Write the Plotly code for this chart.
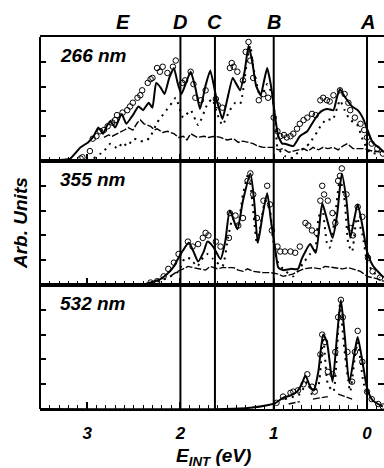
import plotly.graph_objects as go

# ---------------- data (E_INT in eV, intensity in arbitrary units 0..1) ----------------
# 266 nm panel
e266_line = [3.50, 3.26, 3.18, 3.07, 2.99, 2.93, 2.88, 2.83, 2.79, 2.75, 2.70, 2.63, 2.58, 2.51, 2.45,
             2.40, 2.34, 2.30, 2.26, 2.21, 2.17, 2.12, 2.07, 2.03, 1.99, 1.95, 1.89, 1.84, 1.79, 1.73,
             1.68, 1.61, 1.55, 1.50, 1.44, 1.40, 1.36, 1.31, 1.27, 1.23, 1.19, 1.14, 1.10, 1.07, 1.03,
             0.98, 0.95, 0.91, 0.88, 0.79, 0.72, 0.64, 0.59, 0.52, 0.47, 0.42, 0.36, 0.32, 0.29, 0.24,
             0.16, 0.10, 0.04, -0.01, -0.06, -0.14, -0.18]
i266_line = [0.00, 0.01, 0.02, 0.11, 0.15, 0.20, 0.27, 0.22, 0.28, 0.32, 0.27, 0.38, 0.30, 0.37, 0.44,
             0.41, 0.47, 0.43, 0.63, 0.59, 0.54, 0.67, 0.75, 0.63, 0.54, 0.61, 0.72, 0.59, 0.42, 0.61,
             0.73, 0.49, 0.34, 0.49, 0.67, 0.62, 0.57, 0.73, 0.93, 0.80, 0.61, 0.53, 0.66, 0.75, 0.61,
             0.33, 0.20, 0.14, 0.14, 0.12, 0.20, 0.24, 0.30, 0.38, 0.41, 0.42, 0.41, 0.52, 0.58, 0.52,
             0.44, 0.41, 0.34, 0.24, 0.15, 0.10, 0.07]
e266_exp = [3.07, 3.05, 2.97, 2.94, 2.90, 2.86, 2.82, 2.78, 2.73, 2.70, 2.68, 2.62, 2.57, 2.54, 2.51,
            2.46, 2.43, 2.41, 2.35, 2.32, 2.30, 2.25, 2.22, 2.19, 2.14, 2.08, 2.05, 1.98, 1.95, 1.89,
            1.86, 1.84, 1.78, 1.73, 1.62, 1.60, 1.55, 1.47, 1.45, 1.43, 1.39, 1.33, 1.30, 1.27, 1.25,
            1.22, 1.16, 1.11, 1.06, 1.00, 0.96, 0.93, 0.89, 0.86, 0.82, 0.79, 0.75, 0.72, 0.68, 0.64,
            0.59, 0.55, 0.50, 0.47, 0.43, 0.40, 0.36, 0.29, 0.24, 0.20, 0.18, 0.13, 0.07, 0.03, 0.00,
            -0.05, -0.11, -0.17]
i266_exp = [0.02, 0.03, 0.08, 0.18, 0.20, 0.24, 0.25, 0.28, 0.31, 0.33, 0.37, 0.39, 0.41, 0.44, 0.47,
            0.51, 0.53, 0.57, 0.63, 0.66, 0.67, 0.75, 0.72, 0.76, 0.71, 0.76, 0.81, 0.63, 0.65, 0.72,
            0.62, 0.51, 0.49, 0.57, 0.50, 0.45, 0.43, 0.75, 0.79, 0.76, 0.72, 0.65, 0.88, 0.96, 0.81,
            0.67, 0.49, 0.54, 0.51, 0.35, 0.24, 0.20, 0.21, 0.19, 0.20, 0.22, 0.26, 0.30, 0.33, 0.35,
            0.38, 0.37, 0.49, 0.51, 0.49, 0.48, 0.53, 0.57, 0.54, 0.47, 0.41, 0.35, 0.30, 0.25, 0.19,
            0.14, 0.10, 0.06]
e266_dot = [2.93, 2.82, 2.75, 2.67, 2.62, 2.57, 2.50, 2.43, 2.37, 2.32, 2.25, 2.21, 2.14, 2.09, 2.05,
            1.97, 1.89, 1.81, 1.71, 1.66, 1.60, 1.55, 1.47, 1.41, 1.36, 1.28, 1.25, 1.22, 1.14, 1.07,
            1.02, 0.98, 0.96, 0.88, 0.82, 0.72, 0.66, 0.61, 0.53, 0.50, 0.43, 0.37, 0.32, 0.29, 0.24,
            0.18, 0.11, 0.04, -0.03, -0.11]
i266_dot = [0.02, 0.08, 0.14, 0.10, 0.15, 0.12, 0.18, 0.16, 0.16, 0.20, 0.31, 0.35, 0.42, 0.47, 0.51,
            0.35, 0.41, 0.29, 0.46, 0.50, 0.37, 0.29, 0.41, 0.47, 0.46, 0.84, 0.93, 0.76, 0.51, 0.62,
            0.54, 0.31, 0.11, 0.04, 0.02, 0.08, 0.11, 0.15, 0.24, 0.28, 0.34, 0.33, 0.43, 0.49, 0.41,
            0.33, 0.30, 0.16, 0.07, 0.06]
e266_bg = [2.82, 2.77, 2.73, 2.68, 2.64, 2.60, 2.56, 2.51, 2.46, 2.43, 2.39, 2.36, 2.32, 2.28, 2.25,
           2.19, 2.14, 2.07, 2.02, 1.97, 1.93, 1.89, 1.82, 1.75, 1.70, 1.63, 1.57, 1.50, 1.43, 1.38,
           1.33, 1.27, 1.22, 1.17, 1.11, 1.01, 0.95, 0.90, 0.84, 0.79, 0.73, 0.68, 0.63, 0.58, 0.52,
           0.47, 0.42, 0.36, 0.31, 0.26, 0.21, 0.15, 0.10, 0.04, -0.06, -0.17]
i266_bg = [0.19, 0.21, 0.20, 0.22, 0.23, 0.25, 0.27, 0.25, 0.31, 0.33, 0.30, 0.29, 0.28, 0.25, 0.26,
           0.23, 0.24, 0.22, 0.19, 0.20, 0.17, 0.22, 0.19, 0.20, 0.19, 0.20, 0.19, 0.17, 0.18, 0.15,
           0.16, 0.15, 0.14, 0.12, 0.11, 0.11, 0.09, 0.10, 0.07, 0.08, 0.09, 0.10, 0.08, 0.11, 0.09,
           0.11, 0.10, 0.11, 0.09, 0.12, 0.14, 0.10, 0.10, 0.10, 0.08, 0.07]

# 355 nm panel
e355_line = [3.50, 2.43, 2.32, 2.21, 2.14, 2.07, 2.02, 1.98, 1.91, 1.86, 1.81, 1.75, 1.71, 1.65, 1.57,
             1.52, 1.47, 1.39, 1.33, 1.25, 1.21, 1.17, 1.12, 1.07, 1.03, 0.98, 0.95, 0.90, 0.82, 0.74,
             0.70, 0.66, 0.61, 0.55, 0.48, 0.44, 0.37, 0.32, 0.27, 0.22, 0.18, 0.14, 0.10, 0.05, 0.00,
             -0.06, -0.14, -0.18]
i355_line = [0.00, 0.00, 0.02, 0.05, 0.09, 0.15, 0.22, 0.27, 0.34, 0.27, 0.19, 0.27, 0.35, 0.31, 0.21,
             0.35, 0.60, 0.45, 0.68, 0.90, 0.68, 0.34, 0.56, 0.74, 0.52, 0.27, 0.14, 0.12, 0.13, 0.13,
             0.21, 0.27, 0.33, 0.26, 0.66, 0.56, 0.38, 0.57, 0.90, 0.68, 0.38, 0.52, 0.65, 0.48, 0.27,
             0.16, 0.09, 0.06]
e355_exp = [2.32, 2.25, 2.18, 2.13, 2.07, 2.02, 1.92, 1.87, 1.81, 1.76, 1.73, 1.70, 1.62, 1.57, 1.48,
            1.47, 1.41, 1.38, 1.33, 1.28, 1.25, 1.22, 1.18, 1.11, 1.07, 1.04, 1.02, 0.96, 0.93, 0.88,
            0.82, 0.77, 0.72, 0.66, 0.63, 0.59, 0.54, 0.50, 0.48, 0.46, 0.42, 0.37, 0.34, 0.31, 0.29,
            0.27, 0.22, 0.18, 0.15, 0.10, 0.05, -0.01, -0.06, -0.14]
i355_exp = [0.02, 0.03, 0.07, 0.13, 0.18, 0.25, 0.35, 0.31, 0.33, 0.38, 0.42, 0.40, 0.35, 0.31, 0.38,
            0.58, 0.56, 0.48, 0.54, 0.84, 0.90, 0.73, 0.54, 0.68, 0.80, 0.65, 0.44, 0.31, 0.27, 0.27,
            0.27, 0.26, 0.31, 0.50, 0.48, 0.44, 0.42, 0.68, 0.80, 0.73, 0.68, 0.58, 0.50, 0.84, 0.88,
            0.94, 0.73, 0.46, 0.40, 0.63, 0.55, 0.22, 0.11, 0.06]
e355_dot = [2.32, 2.16, 2.02, 1.95, 1.89, 1.82, 1.75, 1.71, 1.65, 1.55, 1.49, 1.44, 1.39, 1.33, 1.27,
            1.20, 1.18, 1.09, 1.04, 1.01, 0.96, 0.90, 0.79, 0.68, 0.61, 0.56, 0.52, 0.48, 0.43, 0.40,
            0.34, 0.29, 0.24, 0.20, 0.16, 0.11, 0.05, 0.00, -0.06, -0.14]
i355_dot = [0.01, 0.05, 0.11, 0.22, 0.21, 0.15, 0.23, 0.25, 0.21, 0.15, 0.38, 0.54, 0.46, 0.73, 0.90,
            0.45, 0.33, 0.68, 0.60, 0.38, 0.19, 0.13, 0.07, 0.18, 0.25, 0.27, 0.54, 0.62, 0.34, 0.30,
            0.57, 0.86, 0.68, 0.33, 0.27, 0.54, 0.41, 0.19, 0.11, 0.06]
e355_bg = [2.11, 2.03, 1.97, 1.92, 1.86, 1.79, 1.73, 1.68, 1.60, 1.55, 1.50, 1.43, 1.38, 1.33, 1.28,
           1.22, 1.11, 1.04, 0.96, 0.90, 0.84, 0.79, 0.74, 0.68, 0.58, 0.50, 0.45, 0.36, 0.31, 0.26,
           0.20, 0.15, 0.07, 0.00, -0.11, -0.18]
i355_bg = [0.07, 0.11, 0.13, 0.15, 0.14, 0.13, 0.12, 0.15, 0.13, 0.14, 0.14, 0.14, 0.12, 0.11, 0.13,
           0.11, 0.10, 0.10, 0.09, 0.07, 0.08, 0.09, 0.11, 0.13, 0.14, 0.13, 0.15, 0.14, 0.13, 0.13,
           0.14, 0.13, 0.11, 0.07, 0.05, 0.03]

# 532 nm panel
e532_line = [3.50, 1.52, 1.25, 1.07, 0.98, 0.90, 0.82, 0.75, 0.70, 0.66, 0.61, 0.57, 0.52, 0.47, 0.43,
             0.37, 0.32, 0.28, 0.24, 0.19, 0.13, 0.10, 0.04, 0.00, -0.06, -0.17]
i532_line = [0.00, 0.00, 0.01, 0.03, 0.05, 0.09, 0.11, 0.14, 0.20, 0.27, 0.18, 0.15, 0.31, 0.60, 0.54,
             0.22, 0.60, 0.88, 0.60, 0.21, 0.47, 0.58, 0.34, 0.17, 0.07, 0.02]
e532_exp = [0.97, 0.90, 0.82, 0.79, 0.74, 0.68, 0.64, 0.59, 0.56, 0.50, 0.48, 0.45, 0.42, 0.37, 0.34,
            0.31, 0.28, 0.26, 0.21, 0.16, 0.13, 0.10, 0.05, 0.00, -0.05, -0.12, -0.17]
i532_exp = [0.05, 0.10, 0.13, 0.14, 0.15, 0.20, 0.28, 0.18, 0.14, 0.44, 0.60, 0.54, 0.30, 0.28, 0.46,
            0.74, 0.88, 0.74, 0.46, 0.22, 0.46, 0.63, 0.38, 0.14, 0.08, 0.04, 0.02]
e532_dot = [0.88, 0.72, 0.64, 0.59, 0.52, 0.47, 0.42, 0.36, 0.29, 0.24, 0.18, 0.13, 0.10, 0.04, -0.01]
i532_dot = [0.08, 0.12, 0.22, 0.12, 0.19, 0.58, 0.20, 0.14, 0.84, 0.46, 0.14, 0.42, 0.54, 0.22, 0.10]
e532_bg = [0.84, 0.72, None, 0.58, 0.42, None, 0.31, 0.16]
i532_bg = [0.04, 0.06, None, 0.08, 0.10, None, 0.12, 0.08]

wavelengths = ["266 nm", "355 nm", "532 nm"]
marker_labels = ["E", "D", "C", "B", "A"]
marker_energies = [2.62, 2.0, 1.63, 1.0, 0.0]
line_energies = [2.0, 1.63, 1.0, 0.0]
x_ticks = [0, 1, 2, 3]

panels = [
    (e266_exp, i266_exp, e266_line, i266_line, e266_dot, i266_dot, e266_bg, i266_bg),
    (e355_exp, i355_exp, e355_line, i355_line, e355_dot, i355_dot, e355_bg, i355_bg),
    (e532_exp, i532_exp, e532_line, i532_line, e532_dot, i532_dot, e532_bg, i532_bg),
]

# ---------------- figure ----------------
W, H = 384, 468
ML, MR, MT, MB = 40, 0, 37, 59
PH = H - MT - MB
FONT = "Liberation Sans"

fig = go.Figure()
for k, (ex, iy, lx, ly, dx, dy, bx, by) in enumerate(panels):
    xa = "x" if k == 0 else f"x{k+1}"
    ya = "y" if k == 0 else f"y{k+1}"
    fig.add_trace(go.Scatter(x=dx, y=dy, mode="lines", xaxis=xa, yaxis=ya,
                             line=dict(color="black", width=2, dash="2px,5px",
                                       shape="spline", smoothing=0.5),
                             hoverinfo="skip"))
    fig.add_trace(go.Scatter(x=bx, y=by, mode="lines", xaxis=xa, yaxis=ya,
                             line=dict(color="black", width=1.4, dash="7px,2px"),
                             connectgaps=False, hoverinfo="skip"))
    fig.add_trace(go.Scatter(x=lx, y=ly, mode="lines", xaxis=xa, yaxis=ya,
                             line=dict(color="black", width=2, shape="spline",
                                       smoothing=0.45 if k == 0 else 0.6)))
    fig.add_trace(go.Scatter(x=ex, y=iy, mode="markers", xaxis=xa, yaxis=ya,
                             marker=dict(symbol="circle-open", size=5.5, color="black",
                                         line=dict(width=1, color="black"))))

xr = [3.505, -0.182]
tickfont = dict(family=FONT, size=17, color="black", weight="bold", style="italic")
layout = dict(
    width=W, height=H, margin=dict(l=ML, r=MR, t=MT, b=MB),
    paper_bgcolor="white", plot_bgcolor="white", showlegend=False,
)
for k in range(3):
    sfx = "" if k == 0 else str(k + 1)
    top = 1 - k / 3
    bot = 1 - (k + 1) / 3
    layout["xaxis" + sfx] = dict(
        range=xr, domain=[0, 1], anchor="y" + sfx,
        showline=True, linecolor="black", linewidth=2, mirror=True,
        ticks="inside", tickmode="array", tickvals=x_ticks, ticklen=7, tickwidth=1.5,
        tickcolor="black",
        minor=dict(dtick=0.1, tick0=0, ticks="inside", ticklen=4, tickwidth=1.2,
                   tickcolor="black"),
        showgrid=False, zeroline=False,
        showticklabels=(k == 2), tickfont=tickfont, ticklabelstandoff=8,
    )
    layout["yaxis" + sfx] = dict(
        range=[0, 1], domain=[bot, top], anchor="x" + sfx,
        showline=False, ticks="inside", tickmode="array", tickvals=[0.2, 0.4, 0.6, 0.8],
        ticklen=6, tickwidth=1.5, tickcolor="black", mirror="ticks",
        showticklabels=False, showgrid=False, zeroline=False,
    )
fig.update_layout(**layout)

# frame left edge and vertical markers
shapes = [dict(type="line", xref="paper", yref="paper", x0=0, x1=0, y0=0, y1=1,
               line=dict(color="black", width=2))]
for e in line_energies:
    shapes.append(dict(type="line", xref="x", yref="paper", x0=e, x1=e, y0=0, y1=1,
                       line=dict(color="black", width=2)))
fig.update_layout(shapes=shapes)

def py2paper(py):
    return (H - MB - py) / PH

ann = []
bi = dict(family=FONT, color="black", weight="bold", style="italic")
for lab, e in zip(marker_labels, marker_energies):
    ann.append(dict(text=lab, x=e, xref="x", y=py2paper(22), yref="paper", showarrow=False,
                    xanchor="center", yanchor="middle", font=dict(size=20, **bi)))
for lab, py in zip(wavelengths, [56, 179, 303]):
    ann.append(dict(text=lab, x=(58 - ML) / (W - ML - MR), xref="paper", y=py2paper(py), yref="paper",
                    showarrow=False, xanchor="left", yanchor="middle", font=dict(size=19, **bi)))
ann.append(dict(text="Arb. Units", x=(20 - ML) / (W - ML - MR), xref="paper", y=py2paper(223),
                yref="paper", showarrow=False, textangle=-90, xanchor="center", yanchor="middle",
                font=dict(size=19, **bi)))
ann.append(dict(text="E<sub>INT</sub> (eV)", x=(213 - ML) / (W - ML - MR), xref="paper",
                y=py2paper(443), yref="paper", showarrow=False, xanchor="center", yanchor="top",
                font=dict(size=19, **bi)))
fig.update_layout(annotations=ann)

fig.write_html("out.html", config={"displayModeBar": False},
               post_script="document.body.style.margin='0px';document.body.style.overflow='hidden';")
